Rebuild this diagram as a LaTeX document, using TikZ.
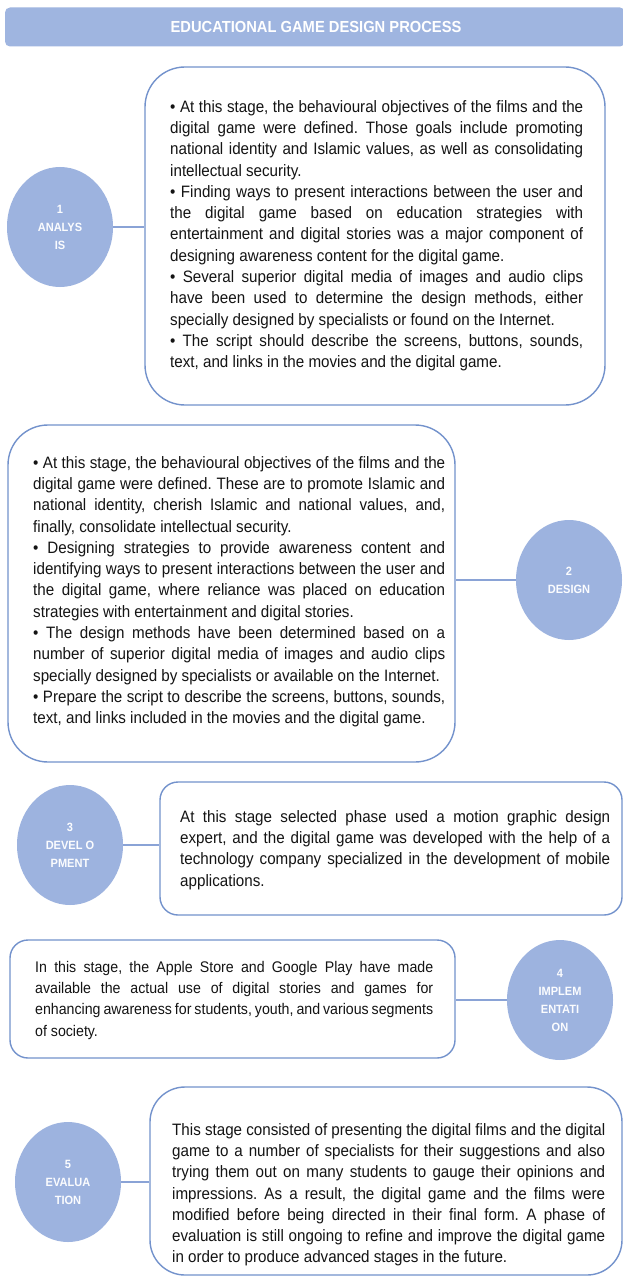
\documentclass[tikz,border=0pt]{standalone}
\usepackage{fontspec}
\setmainfont{Liberation Sans}[FakeStretch=0.92]
\usetikzlibrary{shapes.geometric}
\setlength{\parindent}{0pt}
\setlength{\parskip}{0pt}
\frenchspacing
\definecolor{bubble}{HTML}{9DB3DF}
\definecolor{barfill}{HTML}{9FB5E0}
\definecolor{boxline}{HTML}{7392CC}
\definecolor{connline}{HTML}{8AA3D6}
\definecolor{txtcol}{HTML}{141414}
\tikzset{
  titlebar/.style={fill=barfill, draw=none, rounded corners=5pt, minimum width=620pt, minimum height=39pt, inner sep=0pt},
  stagebubble/.style={ellipse, fill=bubble, draw=none, minimum width=106pt, minimum height=120pt, inner sep=0pt,
    text=white!96!bubble, align=center, font=\fontsize{12}{18}\selectfont\bfseries},
  bigbox/.style={draw=boxline, line width=1.4pt, fill=white, rounded corners=40pt, inner sep=0pt},
  smallbox/.style={draw=boxline, line width=1.4pt, fill=white, rounded corners=18pt, inner sep=0pt},
  bodytext/.style={anchor=north west, inner sep=0pt, align=justify, text=txtcol,
    font=\fontsize{16.5}{21.3}\selectfont},
  conn/.style={draw=connline, line width=1.3pt}
}
\begin{document}
\begin{tikzpicture}[x=1pt,y=-1pt]
\useasboundingbox (0,0) rectangle (623,1281);
\fill[white] (0,0) rectangle (623,1281);

% title
\node[titlebar] (title) at (315,27) {};
\node[text=white, font=\fontsize{16}{18}\selectfont\bfseries] (titletext) at (316,27) {EDUCATIONAL GAME DESIGN PROCESS};

% boxes
\node[bigbox, minimum width=460pt, minimum height=338pt] (b1) at (375,236) {};
\node[bigbox, minimum width=447pt, minimum height=337pt] (b2) at (231.5,593.5) {};
\node[smallbox, minimum width=462pt, minimum height=133pt] (b3) at (391,848.5) {};
\node[smallbox, minimum width=445pt, minimum height=118pt] (b4) at (232.5,999) {};
\node[bigbox, rounded corners=35pt, minimum width=472pt, minimum height=188pt] (b5) at (386,1181) {};

% bubbles
\node[stagebubble] (c1) at (60,227) {1\\ANALYS\\IS};
\node[stagebubble] (c2) at (569,580) {2\\DESIGN};
\node[stagebubble] (c3) at (70,845) {3\\DEVEL O\\PMENT};
\node[stagebubble] (c4) at (560,1000) {4\\IMPLEM\\ENTATI\\ON};
\node[stagebubble] (c5) at (68,1182) {5\\EVALUA\\TION};

% connectors
\draw[conn] (c1.east) -- (c1.east -| b1.west);
\draw[conn] (c2.west) -- (c2.west -| b2.east);
\draw[conn] (c3.east) -- (c3.east -| b3.west);
\draw[conn] (c4.west) -- (c4.west -| b4.east);
\draw[conn] (c5.east) -- (c5.east -| b5.west);

% texts
\node[bodytext, text width=413pt] (t1) at (170,100) {%
• At this stage, the behavioural objectives of the films and the \linebreak
digital game were defined. Those goals include promoting \linebreak
national identity and Islamic values, as well as consolidating \linebreak
intellectual security.\par
• Finding ways to present interactions between the user and \linebreak
the digital game based on education strategies with \linebreak
entertainment and digital stories was a major component of \linebreak
designing awareness content for the digital game.\par
• Several superior digital media of images and audio clips \linebreak
have been used to determine the design methods, either \linebreak
specially designed by specialists or found on the Internet.\par
• The script should describe the screens, buttons, sounds, \linebreak
text, and links in the movies and the digital game.};

\node[bodytext, text width=412pt] (t2) at (33,456) {%
• At this stage, the behavioural objectives of the films and the \linebreak
digital game were defined. These are to promote Islamic and \linebreak
national identity, cherish Islamic and national values, and, \linebreak
finally, consolidate intellectual security.\par
• Designing strategies to provide awareness content and \linebreak
identifying ways to present interactions between the user and \linebreak
the digital game, where reliance was placed on education \linebreak
strategies with entertainment and digital stories.\par
• The design methods have been determined based on a \linebreak
number of superior digital media of images and audio clips \linebreak
specially designed by specialists or available on the Internet.\par
• Prepare the script to describe the screens, buttons, sounds, \linebreak
text, and links included in the movies and the digital game.};

\node[bodytext, text width=430pt] (t3) at (180,810) {%
At this stage selected phase used a motion graphic design \linebreak
expert, and the digital game was developed with the help of a \linebreak
technology company specialized in the development of mobile \linebreak
applications.};

\node[bodytext, text width=398pt, font=\fontsize{15.4}{21.3}\selectfont] (t4) at (35,961) {%
In this stage, the Apple Store and Google Play have made \linebreak
available the actual use of digital stories and games for \linebreak
enhancing awareness for students, youth, and various segments \linebreak
of society.};

\node[bodytext, text width=433pt] (t5) at (172,1123) {%
This stage consisted of presenting the digital films and the digital \linebreak
game to a number of specialists for their suggestions and also \linebreak
trying them out on many students to gauge their opinions and \linebreak
impressions. As a result, the digital game and the films were \linebreak
modified before being directed in their final form. A phase of \linebreak
evaluation is still ongoing to refine and improve the digital game \linebreak
in order to produce advanced stages in the future.};
\end{tikzpicture}
\end{document}
